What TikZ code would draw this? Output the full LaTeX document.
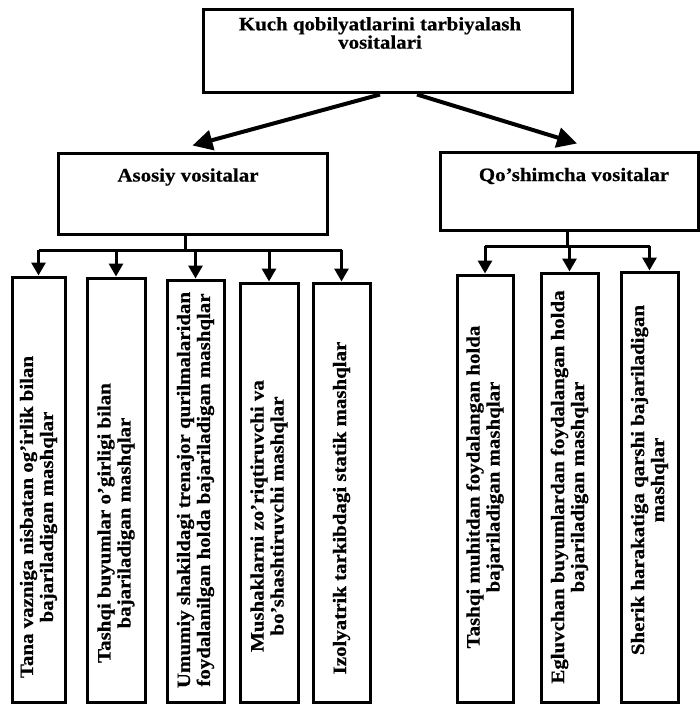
\documentclass[tikz,border=0pt]{standalone}
\usepackage{fontspec}
\setmainfont{Liberation Serif}[FakeStretch=1.1, BoldFeatures={FakeBold=0.6}]
\usetikzlibrary{arrows.meta}
\def \lbary{250}
\def \rbary{246}

\begin{document}
\begin{tikzpicture}[x=1pt, y=-1pt,
    box/.style={draw=black, line width=3pt, inner sep=0pt},
    tallbox/.style={box, rotate=90, minimum height=57},
    lbl/.style={font=\bfseries\fontsize{19}{15}\selectfont, align=center, inner sep=0pt},
    tlbl/.style={lbl, rotate=90, font=\bfseries\fontsize{19}{20}\selectfont},
    bigarrow/.style={line width=4pt, -{Triangle[length=20pt, width=20pt]}},
    arrow/.style={line width=3pt, -{Triangle[length=13pt, width=14pt]}},
    bar/.style={line width=3pt}]
    \useasboundingbox (0, 0) rectangle (699, 706);
    % top level
    \node[box, minimum width=369, minimum height=83] (main) at (387.5, 51.5) {};
    \node[lbl] (mainlbl) at (380, 33) {Kuch qobilyatlarini tarbiyalash\\vositalari};
    \node[box, minimum width=269, minimum height=81] (asosiy) at (192.5, 193.5) {};
    \node[lbl] (asosiylbl) at (188, 177) {Asosiy vositalar};
    \node[box, minimum width=258, minimum height=78] (qosh) at (569, 191) {};
    \node[lbl] (qoshlbl) at (574, 176) {Qo'shimcha vositalar};
    \draw[bigarrow] ([xshift=-7.5pt]main.south) -- ([yshift=6pt]asosiy.north);
    \draw[bigarrow] ([xshift=29.5pt]main.south) -- ([xshift=8pt, yshift=7pt]qosh.north);
    % asosiy vositalar
    \node[tallbox, minimum width=425, minimum height=53] (t1) at (38.5, 489.5) {};
    \node[tallbox, minimum width=424, minimum height=58] (t2) at (116, 490) {};
    \node[tallbox, minimum width=422] (t3) at (195.5, 491) {};
    \node[tallbox, minimum width=419, minimum height=58] (t4) at (269, 492.5) {};
    \node[tallbox, minimum width=419] (t5) at (341.5, 492.5) {};
    \node[tlbl] (t1lbl) at (38.5, 517) {Tana vazniga nisbatan og'irlik bilan\\bajariladigan mashqlar};
    \node[tlbl] (t2lbl) at (116, 523) {Tashqi buyumlar o'girligi bilan\\bajariladigan mashqlar};
    \node[tlbl] (t3lbl) at (195.5, 490) {Umumiy shakildagi trenajor qurilmalaridan\\foydalanilgan holda bajariladigan mashqlar};
    \node[tlbl] (t4lbl) at (269, 516) {Mushaklarni zo'riqtiruvchi va\\bo'shashtiruvchi mashqlar};
    \node[tlbl] (t5lbl) at (341.5, 508) {Izolyatrik tarkibdagi statik mashqlar};
    % qo'shimcha vositalar
    \node[tallbox, minimum width=427, minimum height=56] (t6) at (485, 488.5) {};
    \node[tallbox, minimum width=429] (t7) at (569.5, 487.5) {};
    \node[tallbox, minimum width=430] (t8) at (649.5, 487) {};
    \node[tlbl] (t6lbl) at (485, 487) {Tashqi muhitdan foydalangan holda\\bajariladigan mashqlar};
    \node[tlbl] (t7lbl) at (569.5, 487) {Egluvchan buyumlardan foydalangan holda\\bajariladigan mashqlar};
    \node[tlbl] (t8lbl) at (649.5, 480) {Sherik harakatiga qarshi bajariladigan\\mashqlar};
    % connectors
    \coordinate (lbar) at (185, \lbary);
    \coordinate (rbar) at (567, \rbary);
    \draw[bar] (asosiy.south -| lbar) -- (lbar);
    \draw[bar] (t1.east |- lbar) -- (t5.east |- lbar);
    \foreach \t in {t1, t2, t3, t4, t5}
        \draw[arrow] (\t.east |- lbar) -- (\t.east);
    \draw[bar] (qosh.south -| rbar) -- (rbar);
    \draw[bar] (t6.east |- rbar) -- (t8.east |- rbar);
    \foreach \t in {t6, t7, t8}
        \draw[arrow] (\t.east |- rbar) -- (\t.east);
\end{tikzpicture}
\end{document}
